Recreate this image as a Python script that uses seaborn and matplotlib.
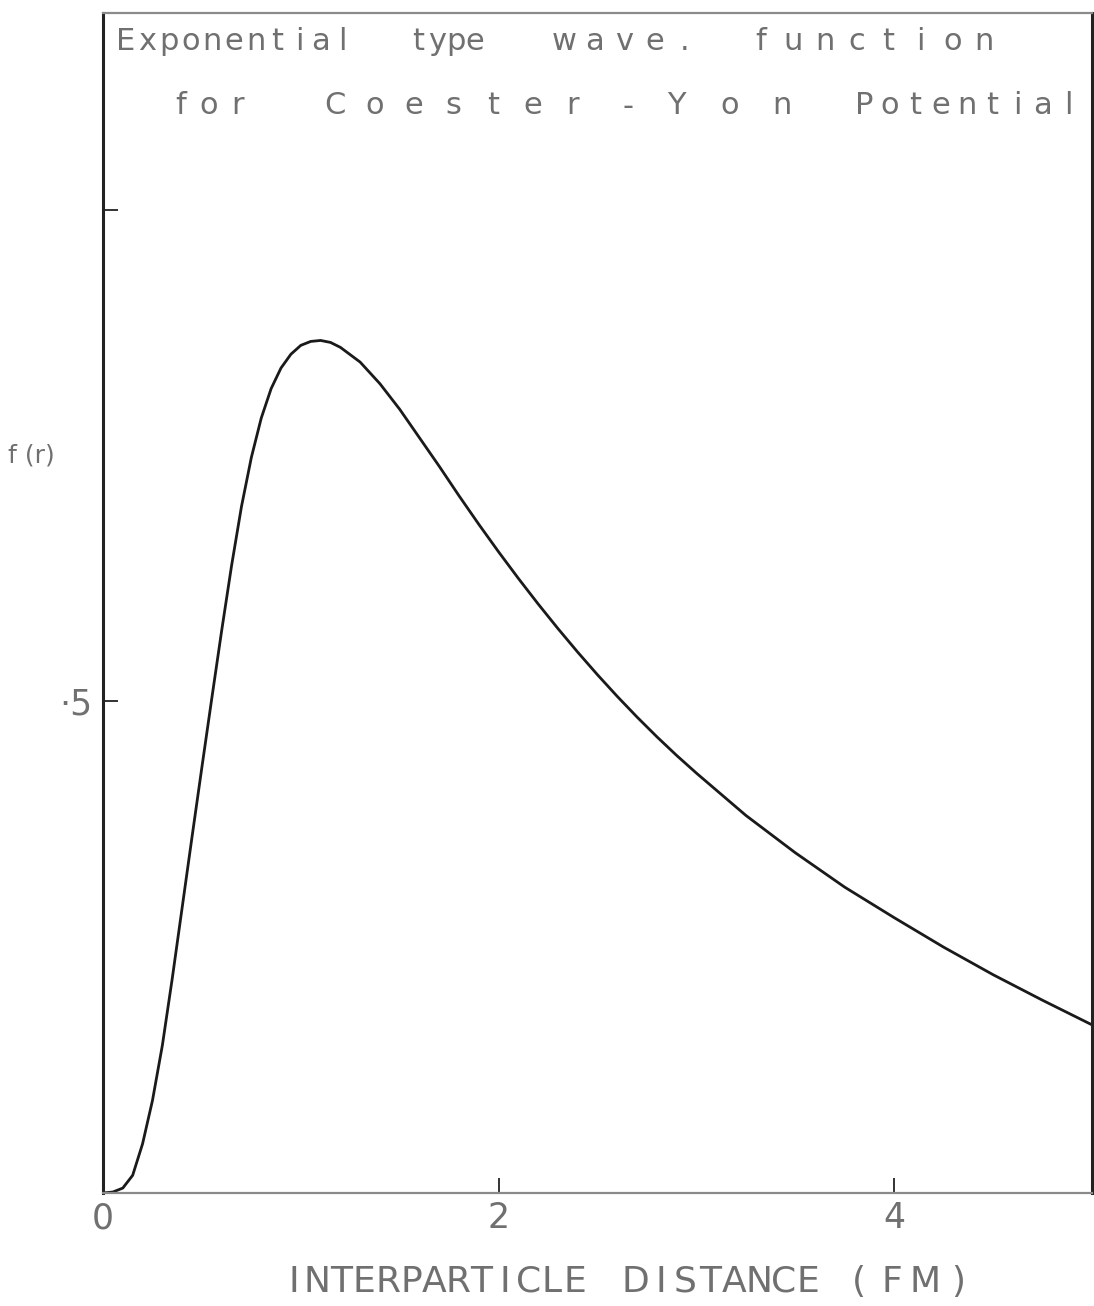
import matplotlib
matplotlib.use("Agg")
import matplotlib.pyplot as plt
import seaborn as sns
import pandas as pd

# ----------------------------------------------------------
# DATA
# ----------------------------------------------------------

r_fm = [0.00, 0.05, 0.10, 0.15, 0.20, 0.25, 0.30, 0.35, 0.40, 0.45,
        0.50, 0.55, 0.60, 0.65, 0.70, 0.75, 0.80, 0.85, 0.90, 0.95,
        1.00, 1.05, 1.10, 1.15, 1.20, 1.30, 1.40, 1.50, 1.60, 1.70,
        1.80, 1.90, 2.00, 2.10, 2.20, 2.30, 2.40, 2.50, 2.60, 2.70,
        2.80, 2.90, 3.00, 3.25, 3.50, 3.75, 4.00, 4.25, 4.50, 4.75, 5.00]
f_r = [0.000, 0.001, 0.005, 0.018, 0.050, 0.094, 0.150, 0.218, 0.290, 0.362,
       0.433, 0.503, 0.572, 0.638, 0.698, 0.748, 0.788, 0.818, 0.839, 0.853,
       0.862, 0.866, 0.867, 0.865, 0.860, 0.845, 0.823, 0.797, 0.768, 0.739,
       0.709, 0.680, 0.652, 0.625, 0.599, 0.574, 0.550, 0.527, 0.505, 0.484,
       0.464, 0.445, 0.427, 0.384, 0.346, 0.311, 0.280, 0.250, 0.222, 0.196, 0.171]

x_ticks = [0, 2, 4]
x_tick_labels = ["0", "2", "4"]
y_ticks = [0.5, 1.0]
y_tick_labels = ["·5", ""]

title_line1 = ["Exponential", "type", "wave.", "function"]
title_line2 = ["for", "Coester", "-", "Yon", "Potential"]
x_label_words = ["INTERPARTICLE", "DISTANCE", "(FM)"]

df = pd.DataFrame({"r": r_fm, "f": f_r})

# ----------------------------------------------------------
# PLOT
# ----------------------------------------------------------

sns.set_theme(style="white")
plt.rcParams['font.family'] = ['DejaVu Sans']

ink = "#707070"
W, H = 1094, 1306

fig = plt.figure(figsize=(W / 100, H / 100), dpi=100)
ax = fig.add_axes([103 / W, (H - 1193) / H, 989 / W, 1180 / H])

sns.lineplot(data=df, x="r", y="f", color="#1a1a1a", linewidth=2.0, ax=ax)

ax.set_xlim(0, 5.0)
ax.set_ylim(0, 1.2)

ax.set_xticks(x_ticks)
ax.set_xticklabels(x_tick_labels)
ax.set_yticks(y_ticks)
ax.set_yticklabels(y_tick_labels)
ax.tick_params(axis="both", which="major", bottom=True, left=True,
               direction="in", length=11, width=1.4, color="#333333",
               labelsize=25, labelcolor=ink)
ax.tick_params(axis="x", pad=6)
ax.tick_params(axis="y", pad=8)

ax.set_xlabel("")
ax.set_ylabel("")

for side in ["left", "right"]:
    ax.spines[side].set_color("#222222")
    ax.spines[side].set_linewidth(2.2)
for side in ["top", "bottom"]:
    ax.spines[side].set_color("#8a8a8a")
    ax.spines[side].set_linewidth(1.6)


def spaced(word, x0, x1, y, size):
    # spread the letters of one word evenly between two pixel columns
    n = len(word)
    half = 0.3 * size
    a, b = x0 + half, x1 - half
    for i, ch in enumerate(word):
        px = (x0 + x1) / 2 if n == 1 else a + (b - a) * i / (n - 1)
        fig.text(px / W, 1 - y / H, ch, fontsize=size, color=ink,
                 ha="center", va="center")


# title inside the frame, spread like typewriter lettering
for word, (a, b) in zip(title_line1, [(119, 349), (412, 481), (558, 691), (754, 991)]):
    spaced(word, a, b, 42, 22)
for word, (a, b) in zip(title_line2, [(174, 244), (328, 579), (618, 638), (670, 789), (858, 1075)]):
    spaced(word, a, b, 106, 22)

# x label
for word, (a, b) in zip(x_label_words, [(286, 583), (628, 816), (851, 966)]):
    spaced(word, a, b, 1282, 26)

fig.text(8 / W, 1 - 455 / H, "f (r)", fontsize=18, color=ink, va="center")

plt.savefig("out.png", dpi=100)
